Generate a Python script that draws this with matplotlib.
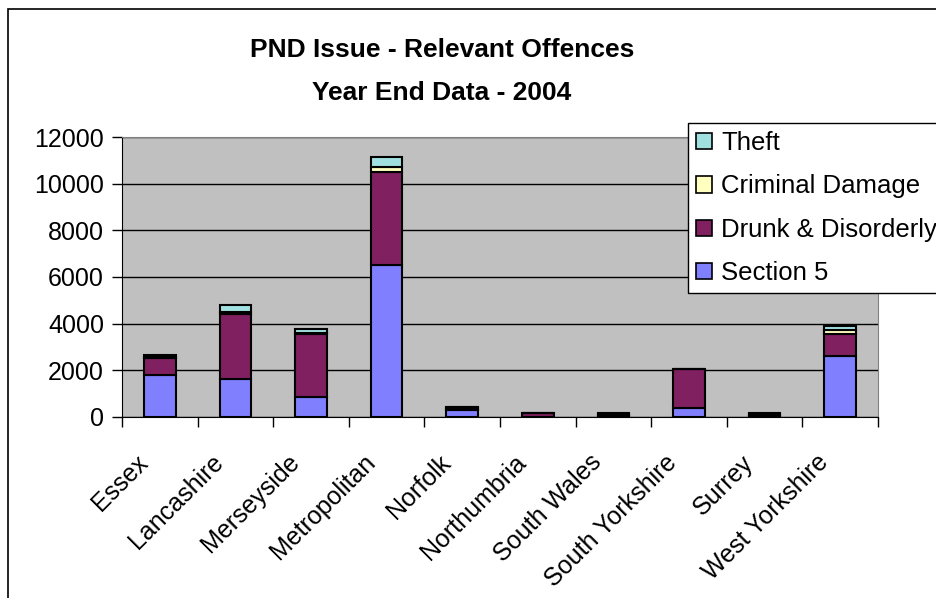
import numpy as np
import matplotlib
matplotlib.use("Agg")
from matplotlib import pyplot as plt
from matplotlib.patches import Rectangle
from matplotlib.transforms import ScaledTranslation

plt.rcParams['font.family'] = ['Liberation Sans', 'DejaVu Sans']

forces = ["Essex", "Lancashire", "Merseyside", "Metropolitan", "Norfolk",
          "Northumbria", "South Wales", "South Yorkshire", "Surrey", "West Yorkshire"]
section5 = [1780, 1630, 850, 6500, 320, 10, 40, 400, 40, 2630]
drunk_disorderly = [750, 2800, 2700, 4000, 80, 150, 60, 1640, 60, 940]
criminal_damage = [60, 80, 40, 200, 10, 5, 30, 10, 30, 140]
theft = [60, 290, 170, 440, 20, 5, 40, 10, 40, 210]

series = [
    ("Section 5", section5, "#8080FF"),
    ("Drunk & Disorderly", drunk_disorderly, "#802060"),
    ("Criminal Damage", criminal_damage, "#FFFFC0"),
    ("Theft", theft, "#A0E0E0"),
]

fig = plt.figure(figsize=(9.36, 5.98), dpi=100)
ax = fig.add_axes([122 / 936, 1 - 417 / 598, 756 / 936, 280 / 598])
ax.set_facecolor("#C0C0C0")

x = np.arange(len(forces))
bottom = np.zeros(len(forces))
handles = []
for name, vals, col in series:
    b = ax.bar(x, vals, 0.42, bottom=bottom, color=col, edgecolor="black",
               linewidth=1.5, label=name, zorder=3)
    handles.append(b)
    bottom += np.array(vals)

ax.set_xlim(-0.5, len(forces) - 0.5)
ax.set_ylim(0, 12000)
ax.set_yticks(np.arange(0, 12001, 2000))
ax.yaxis.grid(True, color="black", linewidth=1)
ax.set_axisbelow(True)

# category boundaries carry the tick marks, labels sit at the centres
ax.set_xticks(np.arange(-0.5, len(forces) + 0.5, 1))
ax.set_xticklabels([])
ax.set_xticks(x, minor=True)
ax.set_xticklabels(forces, minor=True, rotation=45, ha="right",
                   rotation_mode="anchor", fontsize=18)
ax.tick_params(axis="x", which="minor", length=0, pad=24)
ax.tick_params(axis="x", which="major", length=7, width=1, direction="out")
ax.tick_params(axis="y", length=7, width=1, direction="out", labelsize=18, pad=6)
shift = ScaledTranslation(-24 / 100, 0, fig.dpi_scale_trans)
for lbl in ax.get_xticklabels(minor=True):
    lbl.set_transform(lbl.get_transform() + shift)

for s in ["top", "right"]:
    ax.spines[s].set_color("#808080")
for s in ["left", "bottom"]:
    ax.spines[s].set_color("black")

fig.text(442 / 936, 1 - 50 / 598, "PND Issue - Relevant Offences",
         ha="center", va="center", fontsize=19, fontweight="bold")
fig.text(442 / 936, 1 - 93 / 598, "Year End Data - 2004",
         ha="center", va="center", fontsize=19, fontweight="bold")

leg = fig.legend(handles[::-1], [s[0] for s in series][::-1],
                 loc="upper left", bbox_to_anchor=(688 / 936, 1 - 123 / 598),
                 fontsize=18.5, frameon=True, fancybox=False, framealpha=1,
                 edgecolor="black", borderpad=0.32, labelspacing=0.75,
                 handlelength=0.6, handleheight=0.6, handletextpad=0.38,
                 borderaxespad=0)
leg.get_frame().set_linewidth(1)
for p in leg.get_patches():
    p.set_linewidth(1.2)

fig.patches.append(Rectangle((8 / 936, -0.05), 1.0, 1.05 - 9 / 598,
                             transform=fig.transFigure, fill=False,
                             edgecolor="black", linewidth=1.2))

fig.savefig("out.png", dpi=100)
plt.close(fig)
